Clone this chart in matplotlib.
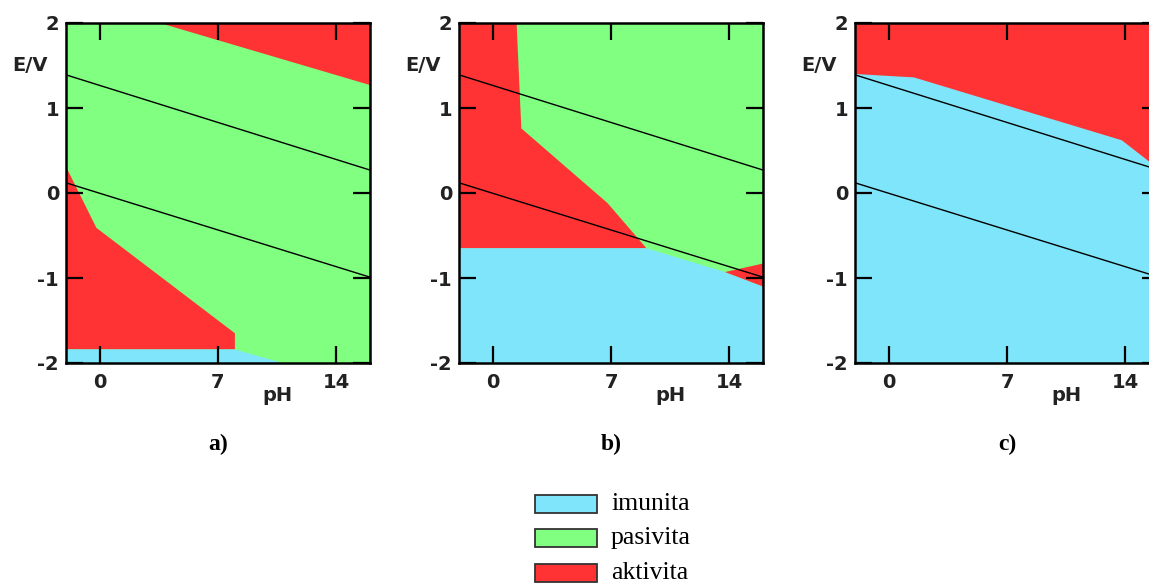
import matplotlib
matplotlib.use("Agg")
import matplotlib.pyplot as plt
from matplotlib.patches import Rectangle

# ---- data ----
ph_range = [-2, 16]
e_range = [-2, 2]
x_ticks = [0, 7, 14]
y_ticks = [-2, -1, 0, 1, 2]
panel_labels = ["a)", "b)", "c)"]

# water stability lines (pH, E)
water_ph = [-2, 16]
water_upper_e = [1.39, 0.27]
water_lower_e = [0.12, -0.99]

# panel a regions
a_bg = "pasivita"
a_red_top_ph = [3.55, 16, 16]
a_red_top_e = [2, 1.27, 2]
a_red_low_ph = [-2, -0.2, 8.0, 8.0, -2]
a_red_low_e = [0.31, -0.41, -1.65, -1.84, -1.84]
a_cyan_ph = [-2, 8.0, 10.8, -2]
a_cyan_e = [-1.84, -1.84, -2, -2]

# panel b regions
b_bg = "pasivita"
b_red_ph = [-2, 1.41, 1.69, 6.8, 9.1, -2]
b_red_e = [2, 2, 0.76, -0.12, -0.65, -0.65]
b_cyan_ph = [-2, 9.1, 13.75, 16, 16, -2]
b_cyan_e = [-0.65, -0.65, -0.93, -1.10, -2, -2]
b_red2_ph = [13.75, 16, 16]
b_red2_e = [-0.93, -0.83, -1.10]

# panel c regions
c_bg = "imunita"
c_red_ph = [-2, 1.49, 13.8, 16, 16, -2]
c_red_e = [1.40, 1.36, 0.62, 0.28, 2, 2]

legend_labels = ["imunita", "pasivita", "aktivita"]
colors = {"imunita": "#7fe5fa", "pasivita": "#80ff80", "aktivita": "#ff3333"}

panels = [
    (a_bg, [("aktivita", a_red_top_ph, a_red_top_e),
            ("aktivita", a_red_low_ph, a_red_low_e),
            ("imunita", a_cyan_ph, a_cyan_e)]),
    (b_bg, [("aktivita", b_red_ph, b_red_e),
            ("imunita", b_cyan_ph, b_cyan_e),
            ("aktivita", b_red2_ph, b_red2_e)]),
    (c_bg, [("aktivita", c_red_ph, c_red_e)]),
]

W, H = 1149, 583
fig = plt.figure(figsize=(W / 100, H / 100), dpi=100)
fig.patch.set_facecolor("white")

lefts = [66, 459, 855]
ax_w, ax_top, ax_bot = 304, 23, 363

for i, (bg, regions) in enumerate(panels):
    ax = fig.add_axes([lefts[i] / W, 1 - ax_bot / H, ax_w / W, (ax_bot - ax_top) / H])
    ax.fill([ph_range[0], ph_range[1], ph_range[1], ph_range[0]],
            [e_range[0], e_range[0], e_range[1], e_range[1]],
            color=colors[bg], lw=0)
    for name, xs, ys in regions:
        ax.fill(xs, ys, color=colors[name], lw=0)
    ax.plot(water_ph, water_upper_e, color="black", lw=1.0)
    ax.plot(water_ph, water_lower_e, color="black", lw=1.0)
    ax.set_xlim(ph_range)
    ax.set_ylim(e_range)
    ax.set_xticks(x_ticks)
    ax.set_yticks(y_ticks)
    ax.set_yticklabels([str(t) for t in y_ticks])
    ax.tick_params(direction="in", length=12, width=1.6, top=True, right=True,
                   labelsize=14)
    ax.tick_params(axis="x", pad=7)
    ax.tick_params(axis="y", pad=5)
    for lab in ax.get_xticklabels() + ax.get_yticklabels():
        lab.set_fontweight("bold")
        lab.set_fontfamily("DejaVu Sans")
        lab.set_color("#222222")
    for s in ax.spines.values():
        s.set_linewidth(1.8)
    ax.text(-0.118, 0.876, "E/V", transform=ax.transAxes, ha="center", va="center",
            fontsize=14, fontweight="bold", color="#222222")
    ax.text(0.697, -0.095, "pH", transform=ax.transAxes, ha="center", va="center",
            fontsize=14, fontweight="bold", color="#222222")
    ax.text(0.5, -0.241, panel_labels[i], transform=ax.transAxes, ha="center", va="center",
            fontsize=17, fontweight="bold", family="Liberation Serif")

# legend
box_x, box_w, box_h = 535, 62, 18
row_y = [504, 538, 573]
for lab, yc in zip(legend_labels, row_y):
    fig.patches.append(Rectangle((box_x / W, 1 - (yc + box_h / 2) / H), box_w / W, box_h / H,
                                 transform=fig.transFigure, facecolor=colors[lab],
                                 edgecolor="#333333", lw=1.3))
    fig.text(611 / W, 1 - yc / H, lab, ha="left", va="center", fontsize=18.5,
             family="Liberation Serif")

fig.savefig("out.png", dpi=100, facecolor="white")
